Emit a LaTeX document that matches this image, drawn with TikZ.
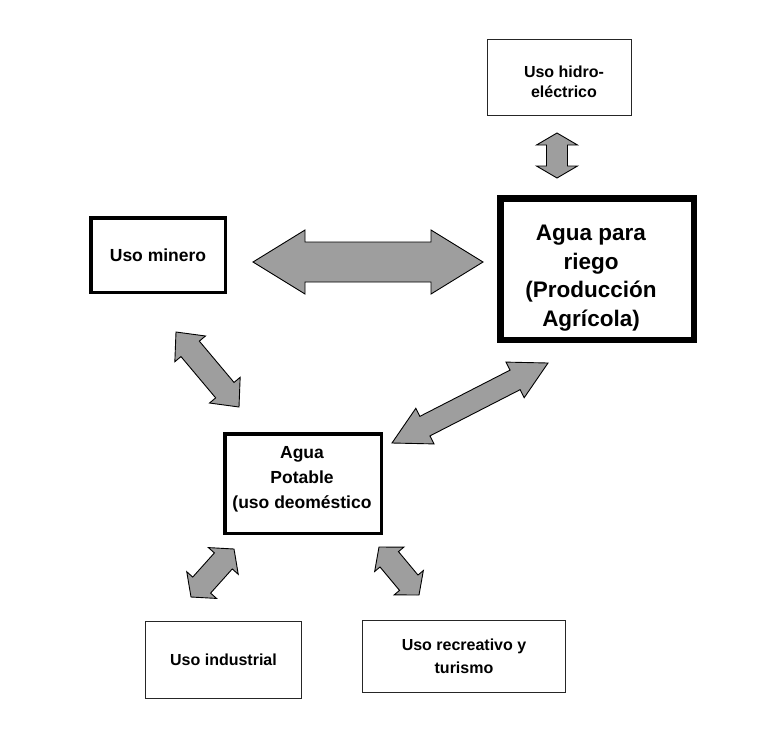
\documentclass[tikz,border=0pt]{standalone}
\usepackage{fontspec}
\setmainfont{Liberation Sans}
\usetikzlibrary{calc}
\definecolor{arrowgray}{RGB}{158,158,158}
\tikzset{
  box/.style={draw=black, fill=white, inner sep=0pt, align=center, font=\bfseries},
  thinbox/.style={box, line width=1.3pt, draw=black!85},
  midbox/.style={box, line width=3.5pt},
  thickbox/.style={box, line width=6.5pt},
  boxtext/.style={inner sep=0pt, align=center},
  blockarrow/.style={fill=arrowgray, draw=black, line width=0.9pt, line join=miter},
}
\newcommand\blockarrow[5]{%
  \coordinate (#1-p) at ($(#1)!#5!(#2)$);
  \coordinate (#2-q) at ($(#2)!#5!(#1)$);
  \filldraw[blockarrow] (#1)
   -- ($(#1-p)!#4!90:(#2)$)
   -- ($(#1-p)!#3!90:(#2)$)
   -- ($(#2-q)!#3!-90:(#1)$)
   -- ($(#2-q)!#4!-90:(#1)$)
   -- (#2)
   -- ($(#2-q)!#4!90:(#1)$)
   -- ($(#2-q)!#3!90:(#1)$)
   -- ($(#1-p)!#3!-90:(#2)$)
   -- ($(#1-p)!#4!-90:(#2)$)
   -- cycle;}
\begin{document}
\begin{tikzpicture}[x=1pt, y=-1pt]
\useasboundingbox[fill=white] (0,0) rectangle (773,740);

% boxes
\node[thinbox, minimum width=144pt, minimum height=76pt] (hidro) at (559.5,77.5) {};
\node[boxtext, font=\bfseries\fontsize{16}{20}\selectfont] (hidro-text) at (564,82)
      {Uso hidro-\\eléctrico};
\node[thickbox, minimum width=193.5pt, minimum height=141.5pt] (riego) at (597,269) {};
\node[boxtext, font=\bfseries\fontsize{22.5}{28.5}\selectfont] (riego-text) at (591,278)
      {Agua para\\riego\\(Producción\\Agrícola)};
\node[midbox, minimum width=134.5pt, minimum height=74.5pt,
      font=\bfseries\fontsize{17.5}{22}\selectfont] (minero) at (158,255)
      {Uso minero};
\node[midbox, minimum width=156.5pt, minimum height=99.5pt] (potable) at (303,483.5) {};
\node[boxtext, font=\bfseries\fontsize{17.5}{25}\selectfont] (potable-text) at (302,479)
      {Agua\\Potable\\(uso deoméstico};
\node[thinbox, minimum width=156pt, minimum height=77pt,
      font=\bfseries\fontsize{16}{22}\selectfont] (industrial) at (223.5,660)
      {Uso industrial};
\node[thinbox, minimum width=203pt, minimum height=72pt,
      font=\bfseries\fontsize{16}{23}\selectfont] (recreativo) at (464,656.5)
      {Uso recreativo y\\turismo};

% arrow end points
\coordinate (hr1) at (557,133);
\coordinate (hr2) at (557,178);
\coordinate (mr1) at (253,262);
\coordinate (mr2) at (483,262);
\coordinate (mp1) at (176,332);
\coordinate (mp2) at (239,407);
\coordinate (pr1) at (392,443);
\coordinate (pr2) at (548,363);
\coordinate (pi1) at (191,597);
\coordinate (pi2) at (234,549);
\coordinate (pc1) at (379,547);
\coordinate (pc2) at (419,595);

% block arrows (connectors)
\blockarrow{hr1}{hr2}{10.5pt}{20.5pt}{12pt}
\blockarrow{mr1}{mr2}{20pt}{32pt}{52pt}
\blockarrow{mp1}{mp2}{12pt}{20pt}{22pt}
\blockarrow{pr1}{pr2}{11pt}{20pt}{37pt}
\blockarrow{pi1}{pi2}{12pt}{20pt}{16pt}
\blockarrow{pc1}{pc2}{12pt}{19pt}{16pt}
\end{tikzpicture}
\end{document}
